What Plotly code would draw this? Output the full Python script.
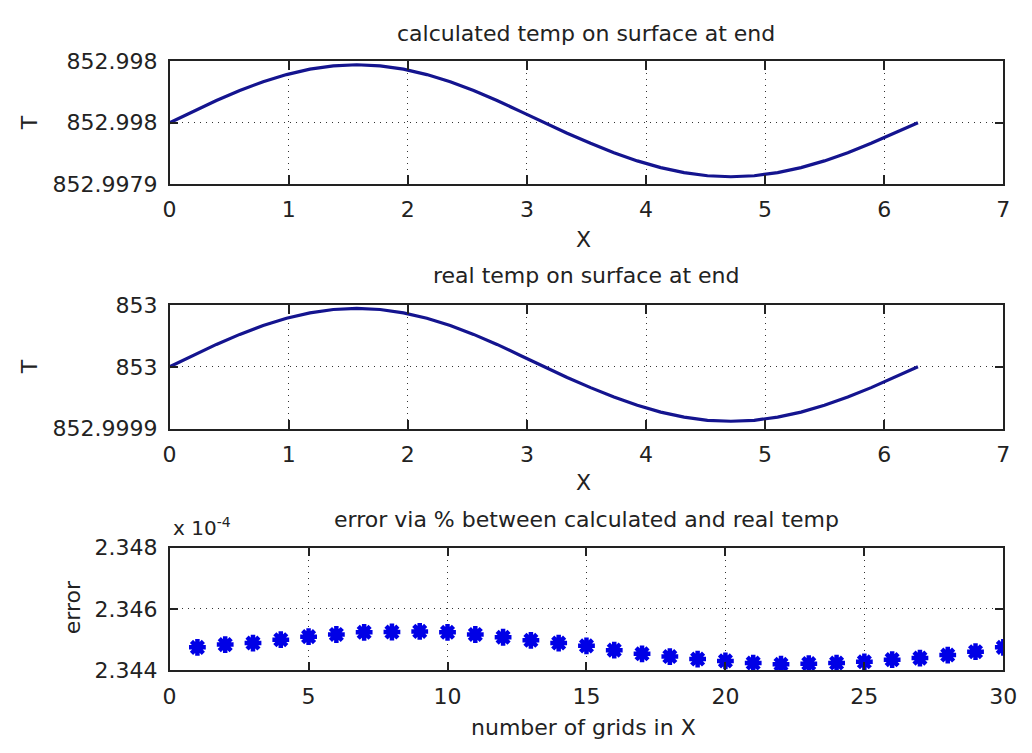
import plotly.graph_objects as go

# ---------------- data ----------------
x_grid = [0.0, 0.19635, 0.3927, 0.58905, 0.7854, 0.98175, 1.1781, 1.37445, 1.5708,
          1.76715, 1.9635, 2.15985, 2.3562, 2.55255, 2.7489, 2.94525, 3.1416,
          3.33795, 3.5343, 3.73065, 3.927, 4.12335, 4.3197, 4.51605, 4.7124,
          4.90875, 5.1051, 5.30145, 5.4978, 5.69415, 5.8905, 6.08685, 6.2832]

T_calc = [852.9979800, 852.9979892, 852.9979981, 852.9980062, 852.9980134, 852.9980192,
          852.9980236, 852.9980263, 852.9980272, 852.9980263, 852.9980236, 852.9980192,
          852.9980134, 852.9980062, 852.9979981, 852.9979892, 852.9979800, 852.9979714,
          852.9979632, 852.9979556, 852.9979489, 852.9979434, 852.9979393, 852.9979368,
          852.9979360, 852.9979368, 852.9979393, 852.9979434, 852.9979489, 852.9979556,
          852.9979632, 852.9979714, 852.9979800]

T_real = [852.9999900, 852.9999992, 853.0000081, 853.0000162, 853.0000234, 853.0000292,
          853.0000336, 853.0000363, 853.0000372, 853.0000363, 853.0000336, 853.0000292,
          853.0000234, 853.0000162, 853.0000081, 852.9999992, 852.9999900, 852.9999814,
          852.9999732, 852.9999656, 852.9999589, 852.9999534, 852.9999493, 852.9999468,
          852.9999460, 852.9999468, 852.9999493, 852.9999534, 852.9999589, 852.9999656,
          852.9999732, 852.9999814, 852.9999900]

n_grids = list(range(1, 31))
err = [2.34475e-4, 2.34484e-4, 2.34489e-4, 2.34500e-4, 2.34510e-4, 2.34517e-4,
       2.34524e-4, 2.34525e-4, 2.34527e-4, 2.34524e-4, 2.34517e-4, 2.34508e-4,
       2.34498e-4, 2.34489e-4, 2.34480e-4, 2.34466e-4, 2.34454e-4, 2.34445e-4,
       2.34437e-4, 2.34431e-4, 2.34424e-4, 2.34420e-4, 2.34422e-4, 2.34424e-4,
       2.34428e-4, 2.34435e-4, 2.34440e-4, 2.34450e-4, 2.34461e-4, 2.34475e-4]

x_ticks_T = [0, 1, 2, 3, 4, 5, 6, 7]
y1_ticks = [852.99793, 852.99798, 852.99803]
y1_text = ["852.9979", "852.998", "852.998"]
y2_ticks = [852.99994, 852.99999, 853.00004]
y2_text = ["852.9999", "853", "853"]
x_ticks_err = [0, 5, 10, 15, 20, 25, 30]
y3_ticks = [2.344e-4, 2.346e-4, 2.348e-4]
y3_text = ["2.344", "2.346", "2.348"]

titles = ["calculated temp on surface at end",
          "real temp on surface at end",
          "error via % between calculated and real temp"]

# ---------------- layout helpers ----------------
W, H = 1032, 753
FONT = "DejaVu Sans"
FS = 22
TXT = "#222222"

def px(x):
    return x / W

def py(y):
    return 1 - y / H

xdom = [px(166), px(1017)]
doms = [[py(178), py(51)], [py(431), py(303)], [py(681), py(554)]]

LINE_C = "#14148f"
MARK_C = "#0000e6"

fig = go.Figure()
fig.add_trace(go.Scatter(x=x_grid, y=T_calc, mode="lines",
                         line=dict(color=LINE_C, width=3.2), xaxis="x", yaxis="y"))
fig.add_trace(go.Scatter(x=x_grid, y=T_real, mode="lines",
                         line=dict(color=LINE_C, width=3.2), xaxis="x2", yaxis="y2"))
fig.add_trace(go.Scatter(x=n_grids, y=err, mode="markers",
                         marker=dict(symbol="asterisk-open", size=14, color=MARK_C,
                                     line=dict(color=MARK_C, width=4.5)),
                         xaxis="x3", yaxis="y3"))

def xax(dom_anchor, rng, ticks):
    return dict(domain=xdom, anchor=dom_anchor, range=rng, tickvals=ticks,
                showline=True, linecolor="#222", linewidth=1.5, mirror="ticks",
                ticks="inside", ticklen=9, tickcolor="#222", tickwidth=1.5,
                showgrid=True, gridcolor="#333", gridwidth=1.2, griddash="1px,5px",
                zeroline=False, tickfont=dict(family=FONT, size=FS, color=TXT),
                ticklabelstandoff=5, fixedrange=True)

def yax(dom, anchor, rng, ticks, text):
    return dict(domain=dom, anchor=anchor, range=rng, tickvals=ticks, ticktext=text,
                showline=True, linecolor="#222", linewidth=1.5, mirror="ticks",
                ticks="inside", ticklen=9, tickcolor="#222", tickwidth=1.5,
                showgrid=True, gridcolor="#333", gridwidth=1.2, griddash="1px,5px",
                zeroline=False, tickfont=dict(family=FONT, size=FS, color=TXT),
                ticklabelstandoff=6, fixedrange=True)

annotations = []
title_y = [22, 273, 525]
for t, yy in zip(titles, title_y):
    annotations.append(dict(text=t, x=(xdom[0] + xdom[1]) / 2, y=py(yy),
                            xref="paper", yref="paper", showarrow=False,
                            xanchor="center", yanchor="middle",
                            font=dict(family=FONT, size=FS, color=TXT)))
xlab = [("X", 235), ("X", 487), ("number of grids in X", 740)]
for t, yy in xlab:
    annotations.append(dict(text=t, x=px(588), y=py(yy), xref="paper", yref="paper",
                            showarrow=False, xanchor="center", yanchor="middle",
                            font=dict(family=FONT, size=FS, color=TXT)))
ylab = [("T", 23, 114.5), ("T", 23, 367), ("error", 67, 616)]
for t, xx, yy in ylab:
    annotations.append(dict(text=t, x=px(xx), y=py(yy), xref="paper", yref="paper",
                            showarrow=False, xanchor="center", yanchor="middle",
                            textangle=-90,
                            font=dict(family=FONT, size=FS, color=TXT)))
annotations.append(dict(text="x 10<sup>-4</sup>", x=px(167), y=py(533),
                        xref="paper", yref="paper", showarrow=False,
                        xanchor="left", yanchor="middle",
                        font=dict(family=FONT, size=20, color=TXT)))

fig.update_layout(
    width=W, height=H,
    margin=dict(l=0, r=0, t=0, b=0),
    paper_bgcolor="white", plot_bgcolor="white",
    showlegend=False,
    xaxis=xax("y", [0, 7], x_ticks_T),
    yaxis=yax(doms[0], "x", [852.99793, 852.99803], y1_ticks, y1_text),
    xaxis2=xax("y2", [0, 7], x_ticks_T),
    yaxis2=yax(doms[1], "x2", [852.99994, 853.00004], y2_ticks, y2_text),
    xaxis3=xax("y3", [0, 30], x_ticks_err),
    yaxis3=yax(doms[2], "x3", [2.344e-4, 2.348e-4], y3_ticks, y3_text),
    annotations=annotations,
)

fig.write_html("out.html")
